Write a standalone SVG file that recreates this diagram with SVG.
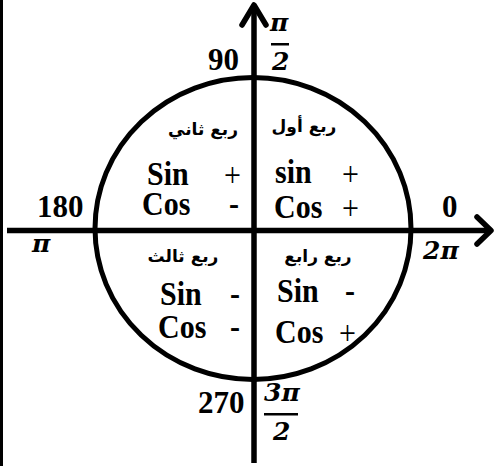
<svg xmlns="http://www.w3.org/2000/svg" width="495" height="466" viewBox="0 0 495 466">
<style>
.t{font-family:"Liberation Serif","Times New Roman",serif;font-weight:bold;fill:#000}
.n{font-size:31px}
.f{font-size:30px}
.s{font-family:"Liberation Serif","Times New Roman",serif;font-size:30px;fill:#000}
.m{font-family:"DejaVu Serif","Liberation Serif",serif;font-weight:bold;font-style:italic;font-size:25px;fill:#000}
.ar{font-family:"DejaVu Sans","Noto Sans",sans-serif;font-weight:bold;font-size:17px;fill:#000}
.ln{stroke:#000;fill:none}
</style>
<rect width="495" height="466" fill="#fff"/>
<g id="connectors">
<line class="ln" x1="1.5" y1="0" x2="1.5" y2="466" stroke-width="3"/>
<line class="ln" x1="254" y1="6" x2="254" y2="463" stroke-width="5.5"/>
<polyline class="ln" points="242,25 254,5 266,25" stroke-width="5.5" stroke-linecap="round" stroke-linejoin="round"/>
<line class="ln" x1="7" y1="230.5" x2="489" y2="230.5" stroke-width="5.5"/>
<polyline class="ln" points="477,217 491,230.5 477,244" stroke-width="5.5" stroke-linecap="round" stroke-linejoin="round"/>
</g>
<g id="circle"><ellipse class="ln" cx="253" cy="228.5" rx="158" ry="151" stroke-width="5"/></g>
<g id="labels-angles">
<text class="t n" x="208" y="70">90</text>
<text class="t n" x="37" y="217">180</text>
<text class="t n" x="442" y="217">0</text>
<text class="t n" x="198" y="413">270</text>
<text class="m" x="270" y="31">π</text>
<rect x="271" y="43" width="18" height="2.5"/>
<text class="m" x="272" y="70">2</text>
<text class="m" x="32" y="252">π</text>
<text class="m" x="423" y="259">2π</text>
<text class="m" x="264" y="401">3π</text>
<rect x="264" y="413" width="34" height="2.5"/>
<text class="m" x="273" y="440">2</text>
</g>
<g id="q1">
<text class="ar" x="304" y="132" text-anchor="middle" direction="rtl">ربع أول</text>
<text class="t f" transform="translate(275,183) scale(1,1.15)">sin</text>
<text class="s" transform="translate(342,185) scale(1,1.1)">+</text>
<text class="t f" transform="translate(274,218) scale(1,1.15)">Cos</text>
<text class="s" transform="translate(342,219) scale(1,1.1)">+</text>
</g>
<g id="q2">
<text class="ar" x="203" y="135" text-anchor="middle" direction="rtl">ربع ثاني</text>
<text class="t f" transform="translate(147,185) scale(1,1.15)">Sin</text>
<text class="s" transform="translate(224,186) scale(1,1.1)">+</text>
<text class="t f" transform="translate(142,215) scale(1,1.15)">Cos</text>
<text class="t f" transform="translate(229,215) scale(1,1.15)">-</text>
</g>
<g id="q3">
<text class="ar" x="183" y="262" text-anchor="middle" direction="rtl">ربع ثالث</text>
<text class="t f" transform="translate(160,305) scale(1,1.15)">Sin</text>
<text class="t f" transform="translate(230,305) scale(1,1.15)">-</text>
<text class="t f" transform="translate(158,338) scale(1,1.15)">Cos</text>
<text class="t f" transform="translate(230,338) scale(1,1.15)">-</text>
</g>
<g id="q4">
<text class="ar" x="318" y="262" text-anchor="middle" direction="rtl">ربع رابع</text>
<text class="t f" transform="translate(277,302) scale(1,1.15)">Sin</text>
<text class="t f" transform="translate(345,302) scale(1,1.15)">-</text>
<text class="t f" transform="translate(275,343) scale(1,1.15)">Cos</text>
<text class="s" transform="translate(339,344) scale(1,1.1)">+</text>
</g>
</svg>
